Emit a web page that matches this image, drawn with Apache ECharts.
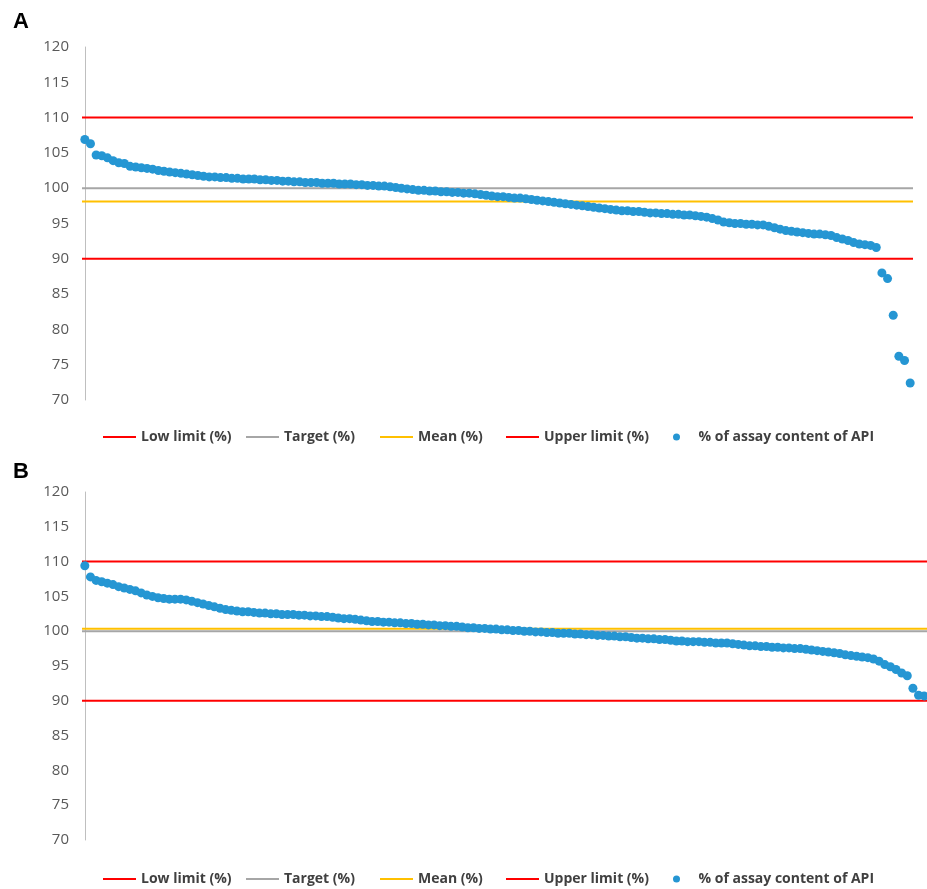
<!DOCTYPE html>
<html>
<head>
<meta charset="utf-8">
<script src="https://cdn.jsdelivr.net/npm/echarts@6/dist/echarts.min.js"></script>
<style>
html,body{margin:0;padding:0;background:#fff;}
#chart{width:927px;height:889px;}
</style>
</head>
<body>
<div id="chart"></div>
<script>
// ---- Data ----
const yTicks = [70, 75, 80, 85, 90, 95, 100, 105, 110, 115, 120];
const seriesNames = ['Low limit (%)', 'Target (%)', 'Mean (%)', 'Upper limit (%)', '% of assay content of API'];
const refLinesA = [90, 100, 98.1, 110];   // low, target, mean, upper
const refLinesB = [90, 100, 100.35, 110];

const valuesA = [106.9,106.3,104.7,104.6,104.3,103.9,103.6,103.5,103.1,103.0,
102.9,102.8,102.7,102.5,102.4,102.3,102.2,102.1,102.0,101.9,
101.8,101.7,101.6,101.6,101.5,101.5,101.4,101.4,101.3,101.3,
101.3,101.2,101.2,101.1,101.1,101.0,101.0,100.9,100.9,100.8,
100.8,100.8,100.7,100.7,100.7,100.6,100.6,100.6,100.5,100.5,
100.4,100.4,100.3,100.3,100.2,100.1,100.0,99.9,99.8,99.7,
99.7,99.6,99.6,99.5,99.5,99.4,99.4,99.3,99.3,99.2,
99.1,99.0,98.9,98.8,98.8,98.7,98.6,98.6,98.5,98.4,
98.3,98.2,98.1,98.0,97.9,97.8,97.7,97.6,97.5,97.4,
97.3,97.2,97.1,97.0,96.9,96.8,96.8,96.7,96.7,96.6,
96.5,96.5,96.4,96.4,96.3,96.3,96.2,96.2,96.1,96.0,
95.9,95.7,95.5,95.2,95.1,95.0,95.0,94.9,94.9,94.8,
94.8,94.6,94.4,94.2,94.0,93.9,93.8,93.7,93.6,93.5,
93.5,93.4,93.3,93.0,92.8,92.6,92.3,92.1,92.0,91.9,
91.6,88.0,87.2,82.0,76.2,75.6,72.4];

const valuesB = [109.4,107.8,107.3,107.1,106.9,106.7,106.4,106.2,106.0,105.8,
105.5,105.2,105.0,104.8,104.7,104.6,104.6,104.6,104.5,104.3,
104.1,103.9,103.7,103.5,103.3,103.1,103.0,102.9,102.8,102.8,
102.7,102.6,102.6,102.5,102.5,102.4,102.4,102.4,102.3,102.3,
102.2,102.2,102.1,102.1,102.0,101.9,101.8,101.8,101.7,101.6,
101.5,101.4,101.4,101.3,101.3,101.2,101.2,101.1,101.1,101.0,
101.0,100.9,100.9,100.8,100.8,100.7,100.7,100.6,100.5,100.5,
100.4,100.4,100.3,100.3,100.2,100.2,100.1,100.1,100.0,100.0,
99.9,99.9,99.8,99.8,99.7,99.7,99.7,99.6,99.6,99.5,
99.5,99.4,99.4,99.3,99.3,99.2,99.2,99.1,99.0,99.0,
98.9,98.9,98.8,98.8,98.7,98.6,98.6,98.5,98.5,98.5,
98.4,98.4,98.3,98.3,98.3,98.2,98.1,98.0,97.9,97.9,
97.8,97.8,97.7,97.7,97.6,97.6,97.5,97.5,97.4,97.3,
97.2,97.1,97.0,96.9,96.8,96.6,96.5,96.4,96.3,96.2,
96.0,95.7,95.2,94.9,94.5,94.0,93.6,91.8,90.8,90.7];

// ---- Styles ----
const lineColors = ['#ff0000', '#a6a6a6', '#ffc000', '#ff0000'];
const dotColor = '#2596d3';
const LEG_FONT = '"Open Sans", sans-serif';
const legendLefts = [103, 246, 380, 506, 673];

function xAxis(gridIndex, n) {
  return { type: 'value', gridIndex, min: -0.5, max: n - 0.5, show: false };
}
function yAxis(gridIndex) {
  return {
    type: 'value', gridIndex, min: 70, max: 120, interval: 5,
    axisLine: { show: true, lineStyle: { color: '#bfbfbf', width: 1 } },
    axisTick: { show: false }, splitLine: { show: false },
    axisLabel: { color: '#595959', fontSize: 15, fontFamily: '"Open Sans", sans-serif', margin: 13,
      formatter: v => yTicks.includes(v) ? String(v) : '' }
  };
}
function panelSeries(idx, refs, values) {
  const n = values.length;
  const out = refs.map((v, k) => ({
    name: seriesNames[k], type: 'line', xAxisIndex: idx, yAxisIndex: idx,
    symbol: 'none', silent: true, z: 2,
    lineStyle: { color: lineColors[k], width: 2 }, itemStyle: { color: lineColors[k] },
    data: [[-0.5, v], [n - 0.5, v]]
  }));
  out.push({
    name: seriesNames[4], type: 'scatter', xAxisIndex: idx, yAxisIndex: idx,
    symbolSize: 9, z: 5, itemStyle: { color: dotColor, opacity: 1 },
    data: values.map((v, i) => [i, v])
  });
  return out;
}
function legends(top) {
  return seriesNames.map((nm, k) => ({
    top, left: legendLefts[k], padding: 0,
    itemWidth: k === 4 ? 34 : 33,
    itemHeight: k === 4 ? 7 : 2,
    selectedMode: false,
    textStyle: { color: '#404040', fontSize: 14, fontFamily: LEG_FONT, fontWeight: 'bold' },
    data: [{ name: nm, icon: k === 4 ? 'circle' : 'rect', itemStyle: { color: k === 4 ? dotColor : lineColors[k] } }]
  }));
}

const chart = echarts.init(document.getElementById('chart'), null, { renderer: 'canvas' });
chart.setOption({
  backgroundColor: '#ffffff',
  animation: false,
  title: [
    { text: 'A', left: 8, top: 6, textStyle: { fontSize: 22, fontWeight: 'bold', color: '#000', fontFamily: 'Liberation Sans, Arial, sans-serif' } },
    { text: 'B', left: 8, top: 456, textStyle: { fontSize: 22, fontWeight: 'bold', color: '#000', fontFamily: 'Liberation Sans, Arial, sans-serif' } }
  ],
  legend: [...legends(430), ...legends(872)],
  grid: [
    { left: 82, top: 47, width: 831, height: 353 },
    { left: 82, top: 492, width: 846, height: 348 }
  ],
  xAxis: [xAxis(0, valuesA.length), xAxis(1, valuesB.length)],
  yAxis: [yAxis(0), yAxis(1)],
  series: [...panelSeries(0, refLinesA, valuesA), ...panelSeries(1, refLinesB, valuesB)]
});
</script>
</body>
</html>
